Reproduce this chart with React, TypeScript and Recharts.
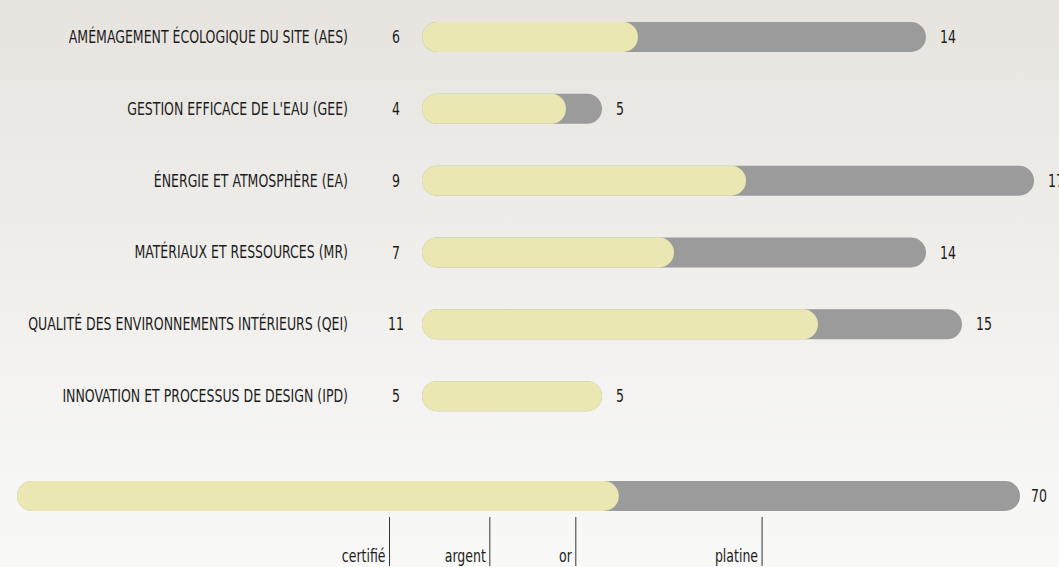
import React from 'react';
import { BarChart, Bar, XAxis, YAxis, LabelList, ReferenceLine } from 'recharts';

const categories = [
  'AMÉMAGEMENT ÉCOLOGIQUE DU SITE (AES)',
  "GESTION EFFICACE DE L'EAU (GEE)",
  'ÉNERGIE ET ATMOSPHÈRE (EA)',
  'MATÉRIAUX ET RESSOURCES (MR)',
  'QUALITÉ DES ENVIRONNEMENTS INTÉRIEURS (QEI)',
  'INNOVATION ET PROCESSUS DE DESIGN (IPD)',
];
const achieved = [6, 4, 9, 7, 11, 5];
const maximum = [14, 5, 17, 14, 15, 5];
const totalAchieved = 42;
const totalMax = 70;
const levelNames = ['certifié', 'argent', 'or', 'platine'];
const levelValues = [26, 33, 39, 52];

const YELLOW = '#ebe7b2';
const GRAY = '#9b9b9b';
const TEXT = '#1c1c1c';
const FONT = '"DejaVu Sans", sans-serif';
const SX = 0.82;

const rows = categories.map((name, i) => ({ name, achieved: achieved[i], max: maximum[i] }));
const totalRow = [{ name: 'total', achieved: totalAchieved, max: totalMax }];
const markerRow = [{ name: 'levels', v: 0 }];

const CText = ({ x, y, anchor, size, children }: any) => (
  <g transform={`translate(${x},${y})`}>
    <text
      transform={`scale(${SX},1)`}
      x={0}
      y={0}
      textAnchor={anchor}
      fill={TEXT}
      fontSize={size}
      fontFamily={FONT}
      style={{ fontStretch: 'condensed' }}
    >
      {children}
    </text>
  </g>
);

const CategoryTick = (props: any) => {
  const { x, y, payload } = props;
  return (
    <CText x={x + 1} y={y + 6} anchor="end" size={17}>
      {payload.value}
    </CText>
  );
};

const AchievedLabel = (props: any) => {
  const { x, y, height, value } = props;
  return (
    <CText x={x - 26} y={y + height / 2 + 6} anchor="middle" size={17}>
      {value}
    </CText>
  );
};

const MaxLabel = (offset: number) => (props: any) => {
  const { x, y, width, height, value } = props;
  return (
    <CText x={x + width + offset} y={y + height / 2 + 6} anchor="start" size={17}>
      {value}
    </CText>
  );
};

const LevelLabel = (name: string) => (props: any) => {
  const vb = props.viewBox || {};
  return (
    <CText x={vb.x - 4} y={vb.y + vb.height - 4} anchor="end" size={17}>
      {name}
    </CText>
  );
};

export default function App() {
  return (
    <div
      style={{
        position: 'absolute',
        left: 0,
        top: 0,
        width: 1059,
        height: 567,
        overflow: 'hidden',
        background: 'linear-gradient(to bottom, #e7e4df 0%, #f0efec 50%, #f9f9f8 100%)',
        fontFamily: FONT,
      }}
    >
      <div style={{ position: 'absolute', left: 0, top: 0 }}>
        <BarChart
          width={1059}
          height={432}
          data={rows}
          layout="vertical"
          margin={{ top: 1, right: 25, bottom: 0, left: 0 }}
          barGap={-30}
          barSize={30}
        >
          <XAxis type="number" domain={[0, 17]} hide />
          <YAxis
            type="category"
            dataKey="name"
            width={422}
            axisLine={false}
            tickLine={false}
            tickSize={0}
            tickMargin={75}
            tick={CategoryTick}
          />
          <Bar dataKey="max" fill={GRAY} radius={15} isAnimationActive={false}>
            <LabelList dataKey="max" content={MaxLabel(14)} />
          </Bar>
          <Bar dataKey="achieved" fill={YELLOW} radius={15} isAnimationActive={false}>
            <LabelList dataKey="achieved" content={AchievedLabel} />
          </Bar>
        </BarChart>
      </div>
      <div style={{ position: 'absolute', left: 0, top: 466 }}>
        <BarChart
          width={1059}
          height={60}
          data={totalRow}
          layout="vertical"
          margin={{ top: 0, right: 39, bottom: 0, left: 17 }}
          barGap={-30}
          barSize={30}
        >
          <XAxis type="number" domain={[0, totalMax]} hide />
          <YAxis type="category" dataKey="name" hide />
          <Bar dataKey="max" fill={GRAY} radius={15} isAnimationActive={false}>
            <LabelList dataKey="max" content={MaxLabel(11)} />
          </Bar>
          <Bar dataKey="achieved" fill={YELLOW} radius={15} isAnimationActive={false} />
        </BarChart>
      </div>
      <div style={{ position: 'absolute', left: 0, top: 517 }}>
        <BarChart
          width={1059}
          height={49}
          data={markerRow}
          layout="vertical"
          margin={{ top: 0, right: 39, bottom: 0, left: 17 }}
        >
          <XAxis type="number" domain={[0, totalMax]} hide />
          <YAxis type="category" dataKey="name" hide />
          <Bar dataKey="v" fill="none" isAnimationActive={false} />
          {levelValues.map((v, i) => (
            <ReferenceLine key={levelNames[i]} x={v} stroke="#333" strokeWidth={1} label={LevelLabel(levelNames[i])} />
          ))}
        </BarChart>
      </div>
    </div>
  );
}
